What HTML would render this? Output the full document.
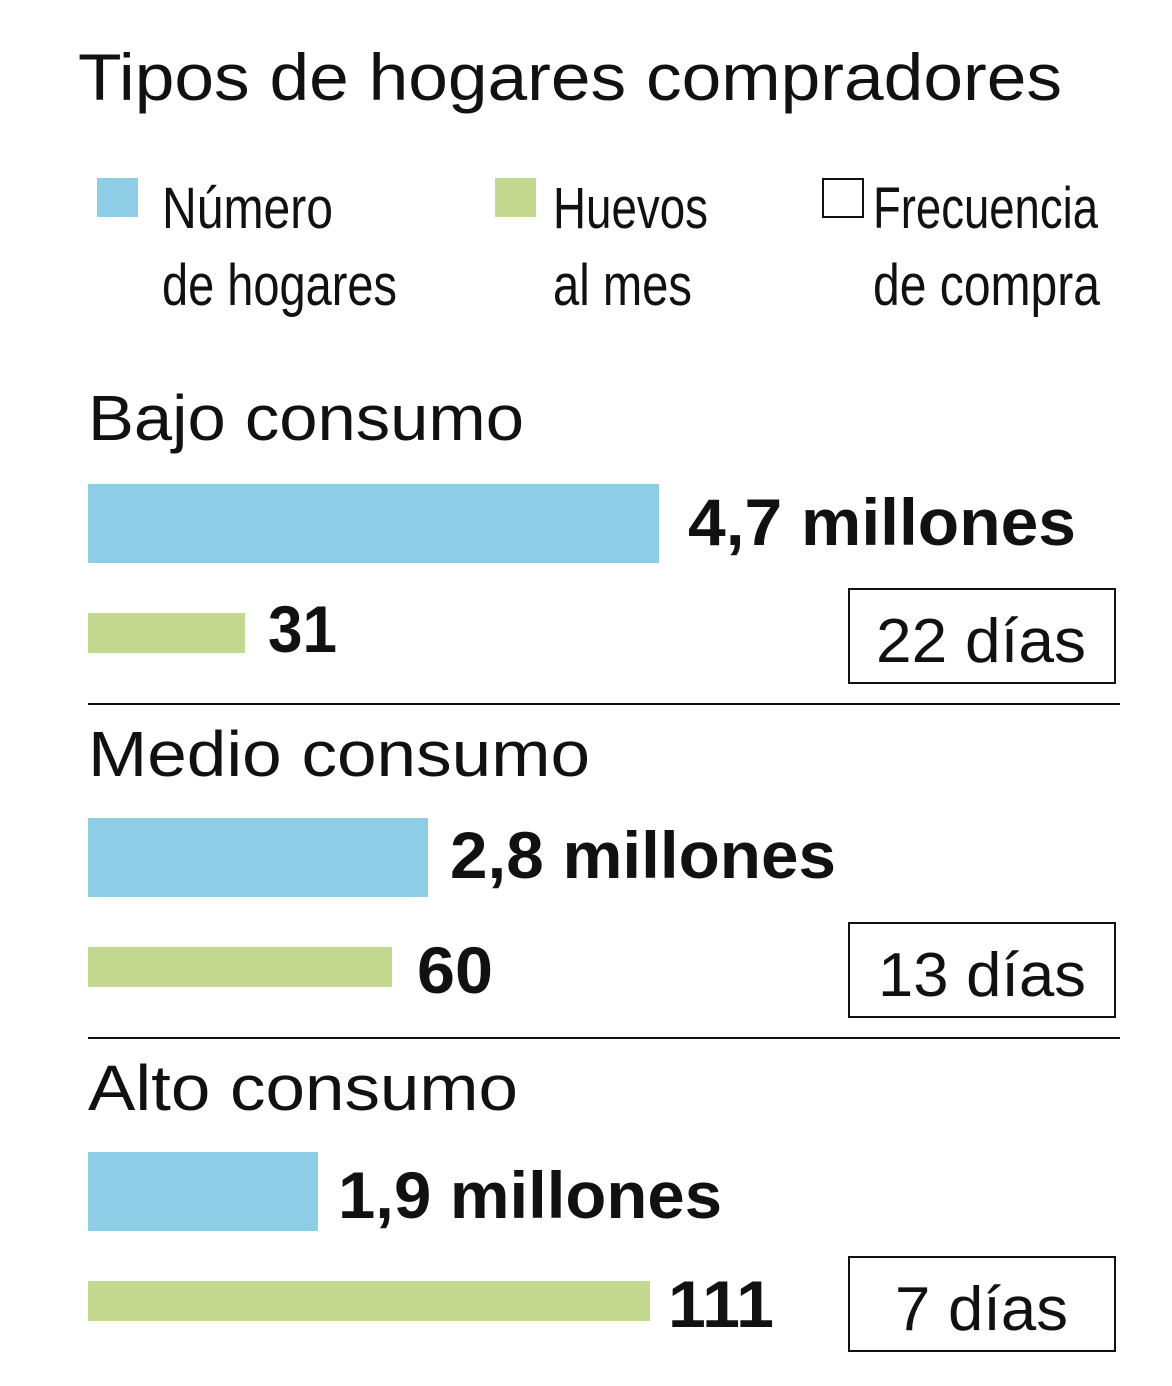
<!DOCTYPE html>
<html><head><meta charset="utf-8"><style>
html,body{margin:0;padding:0;background:#fff;}
svg{display:block;}
text{font-family:"Liberation Sans",sans-serif;fill:#111;}
.b{font-weight:bold;}
</style></head><body>
<svg width="1172" height="1386" viewBox="0 0 1172 1386" xmlns="http://www.w3.org/2000/svg">
<rect width="1172" height="1386" fill="#fff"/>
<text x="78" y="100" font-size="66" textLength="984" lengthAdjust="spacingAndGlyphs">Tipos de hogares compradores</text>

<rect x="97" y="178" width="41" height="39" fill="#8ecde6"/>
<text x="162" y="228" font-size="58" textLength="171" lengthAdjust="spacingAndGlyphs">Número</text>
<text x="162" y="305" font-size="58" textLength="235" lengthAdjust="spacingAndGlyphs">de hogares</text>
<rect x="495" y="178" width="41" height="39" fill="#c5d88f"/>
<text x="553" y="228" font-size="58" textLength="155" lengthAdjust="spacingAndGlyphs">Huevos</text>
<text x="553" y="305" font-size="58" textLength="139" lengthAdjust="spacingAndGlyphs">al mes</text>
<rect x="823" y="179" width="40" height="38" fill="none" stroke="#111" stroke-width="2"/>
<text x="873" y="228" font-size="58" textLength="225" lengthAdjust="spacingAndGlyphs">Frecuencia</text>
<text x="873" y="305" font-size="58" textLength="227" lengthAdjust="spacingAndGlyphs">de compra</text>

<text x="88" y="440" font-size="64" textLength="436" lengthAdjust="spacingAndGlyphs">Bajo consumo</text>
<rect x="88" y="484" width="571" height="79" fill="#8ecde6"/>
<text class="b" x="688" y="545" font-size="66" textLength="388" lengthAdjust="spacingAndGlyphs">4,7 millones</text>
<rect x="88" y="613" width="157" height="40" fill="#c5d88f"/>
<text class="b" x="268" y="652" font-size="66" textLength="69" lengthAdjust="spacingAndGlyphs">31</text>
<rect x="849" y="589" width="266" height="94" fill="none" stroke="#111" stroke-width="2"/>
<text x="876" y="662" font-size="62" textLength="210" lengthAdjust="spacingAndGlyphs">22 días</text>
<rect x="88" y="703" width="1032" height="2" fill="#111"/>

<text x="88" y="776" font-size="64" textLength="502" lengthAdjust="spacingAndGlyphs">Medio consumo</text>
<rect x="88" y="818" width="340" height="79" fill="#8ecde6"/>
<text class="b" x="450" y="878" font-size="66" textLength="386" lengthAdjust="spacingAndGlyphs">2,8 millones</text>
<rect x="88" y="947" width="304" height="40" fill="#c5d88f"/>
<text class="b" x="417" y="993" font-size="66" textLength="76" lengthAdjust="spacingAndGlyphs">60</text>
<rect x="849" y="923" width="266" height="94" fill="none" stroke="#111" stroke-width="2"/>
<text x="878" y="996" font-size="62" textLength="208" lengthAdjust="spacingAndGlyphs">13 días</text>
<rect x="88" y="1037" width="1032" height="2" fill="#111"/>

<text x="88" y="1110" font-size="64" textLength="430" lengthAdjust="spacingAndGlyphs">Alto consumo</text>
<rect x="88" y="1152" width="230" height="79" fill="#8ecde6"/>
<text class="b" x="338" y="1218" font-size="66" textLength="384" lengthAdjust="spacingAndGlyphs">1,9 millones</text>
<rect x="88" y="1281" width="562" height="40" fill="#c5d88f"/>
<text class="b" x="668" y="1327" font-size="66" textLength="106" lengthAdjust="spacingAndGlyphs">111</text>
<rect x="849" y="1257" width="266" height="94" fill="none" stroke="#111" stroke-width="2"/>
<text x="895" y="1330" font-size="62" textLength="173" lengthAdjust="spacingAndGlyphs">7 días</text>
</svg>
</body></html>
